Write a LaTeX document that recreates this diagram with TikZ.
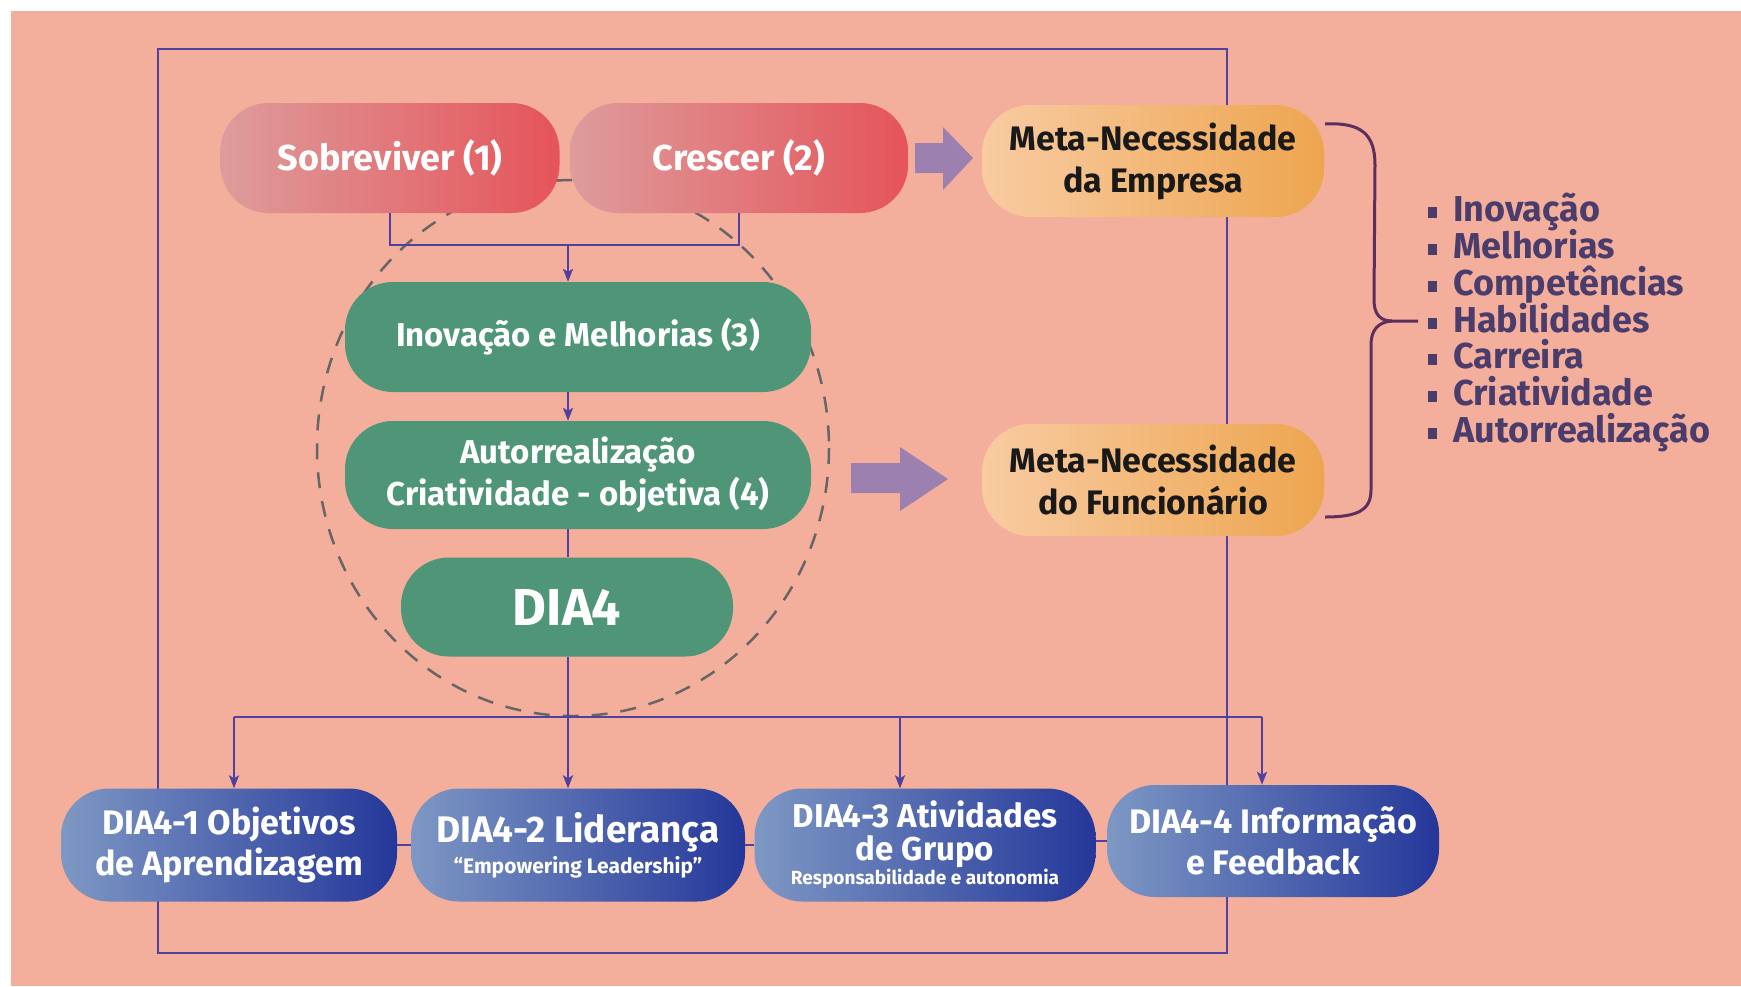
\documentclass[tikz,border=0pt]{standalone}
\usepackage{fontspec}
\setmainfont{Fira Sans}
\usetikzlibrary{arrows.meta}
\definecolor{bg}{HTML}{F4AE9C}
\definecolor{redL}{HTML}{DE9C9C}
\definecolor{redR}{HTML}{E5545A}
\definecolor{orL}{HTML}{F8CBA2}
\definecolor{orR}{HTML}{EEA54F}
\definecolor{grn}{HTML}{4F9678}
\definecolor{blL}{HTML}{7E98C4}
\definecolor{blR}{HTML}{24379A}
\definecolor{conn}{HTML}{5040A0}
\definecolor{bigarr}{HTML}{9C80B0}
\definecolor{dashc}{HTML}{666666}
\definecolor{bracec}{HTML}{5C2F5E}
\definecolor{listc}{HTML}{4A3D6C}
\newcommand{\fs}[2]{\fontsize{#1}{#2}\selectfont}
\newcommand{\bul}{{\color{listc}\rule[3pt]{9pt}{11pt}}\hspace{16pt}}
\tikzset{
  pill/.style={rounded corners=#1, inner sep=0pt, align=center},
  redpill/.style={pill=48pt, left color=redL, right color=redR, text=white,
                  minimum height=110pt, font=\bfseries\fs{36}{42}},
  orpill/.style={pill=48pt, left color=orL, right color=orR, text=black!90,
                 minimum width=342pt, minimum height=112pt, font=\bfseries\fs{34}{42}},
  grnpill/.style={pill=48pt, fill=grn, text=white, font=\bfseries\fs{33}{42}},
  blpill/.style={pill=48pt, left color=blL, right color=blR, text=white,
                 minimum height=113pt, font=\bfseries\fs{34}{41}},
  link/.style={conn, line width=2pt},
  arr/.style={link, -{Stealth[length=13pt,width=10pt,inset=3pt]}},
  bigarrow/.style={fill=bigarr, draw=none},
  item/.style={anchor=base west, inner sep=0pt, text=listc, font=\bfseries\fs{36}{36}},
}
\begin{document}
\begin{tikzpicture}[x=1pt,y=-1pt]
\useasboundingbox (0,0) rectangle (1741,986);
\fill[white] (0,0) rectangle (1741,986);
\fill[bg] (11,11) rectangle (1741,986);

% dashed circle
\draw[dashc, line width=2.5pt, dash pattern=on 16pt off 13pt] (573,448) ellipse [x radius=256, y radius=268];

% outer frame
\draw[link] (158,49) rectangle (1227,953);

% top nodes
\node[redpill, minimum width=339pt] (s1) at (390,158) {Sobreviver (1)};
\node[redpill, minimum width=338pt] (s2) at (739,158) {Crescer (2)};

\node[orpill] (m1) at (1153,161) {Meta-Necessidade\\da Empresa};
\node[orpill] (m2) at (1153,480) {Meta-Necessidade\\do Funcionário};

% green nodes
\node[grnpill, minimum width=466pt, minimum height=110pt] (g3) at (578,337) {Inovação e Melhorias (3)};
\node[grnpill, minimum width=466pt, minimum height=108pt] (g4) at (578,475) {Autorrealização\\Criatividade - objetiva (4)};
\node[grnpill, minimum width=332pt, minimum height=99pt, font=\bfseries\fs{52}{56}] (dia) at (567,607) {DIA4};

% bottom nodes
\node[blpill, minimum width=336pt] (d1) at (229,845) {DIA4-1 Objetivos\\de Aprendizagem};
\node[blpill, minimum width=334pt, font=\bfseries\fs{37}{31}] (d2) at (578,845) {DIA4-2 Liderança\\{\fs{21}{31}“Empowering Leadership”}};
\node[blpill, minimum width=341pt, font=\bfseries\fs{33}{33}] (d3) at (925,845) {DIA4-3 Atividades\\de Grupo\\[-9pt]{\fs{19}{33}Responsabilidade e autonomia}};
\node[blpill, minimum width=332pt, minimum height=112pt] (d4) at (1273,841) {DIA4-4 Informação\\e Feedback};

% connectors top
\coordinate (j) at (568,245);
\coordinate (jl) at (390,245);
\coordinate (jr) at (739,245);
\draw[link] (s1.south) -- (jl) -- (jr) -- (s2.south);
\draw[arr] (j) -- (j |- g3.north);
\draw[arr] (j |- g3.south) -- (j |- g4.north);
\draw[link] (j |- g4.south) -- (j |- dia.north);

% bus
\coordinate (bus) at (568,717);
\coordinate (b1) at (234,717);
\coordinate (b3) at (900,717);
\coordinate (b4) at (1262,717);
\draw[link] (b1) -- (b4);
\draw[arr] (j |- dia.south) -- (bus) -- (bus |- d2.north);
\draw[arr] (b1) -- (b1 |- d1.north);
\draw[arr] (b3) -- (b3 |- d3.north);
\draw[arr] (b4) -- (b4 |- d4.north);

% links between bottom nodes
\draw[link] (d1.east) -- (d2.west);
\draw[link] (d2.east) -- (d3.west);
\draw[link] (d3.east |- d4.west) -- (d4.west);

% big arrows
\fill[bigarrow] (915,143) -- (943,143) -- (943,127) -- (973,158) -- (943,190) -- (943,173) -- (915,173) -- cycle;
\fill[bigarrow] (851,463) -- (900,463) -- (900,447) -- (948,479) -- (900,511) -- (900,493) -- (851,493) -- cycle;

% brace
\draw[bracec, line width=3pt] (1325,124) .. controls (1362,122) and (1375,135) .. (1375,165)
  -- (1374,300) .. controls (1374,314) and (1380,321) .. (1392,321) -- (1418,321);
\draw[bracec, line width=3pt] (1392,321) .. controls (1378,322) and (1371,330) .. (1371,345)
  -- (1371,490) .. controls (1371,510) and (1358,517) .. (1325,517);

% list
\node[item] (l1) at (1428,221) {\bul Inovação};
\node[item] (l2) at (1428,258) {\bul Melhorias};
\node[item] (l3) at (1428,295) {\bul Competências};
\node[item] (l4) at (1428,332) {\bul Habilidades};
\node[item] (l5) at (1428,368) {\bul Carreira};
\node[item] (l6) at (1428,405) {\bul Criatividade};
\node[item] (l7) at (1428,442) {\bul Autorrealização};
\end{tikzpicture}
\end{document}
